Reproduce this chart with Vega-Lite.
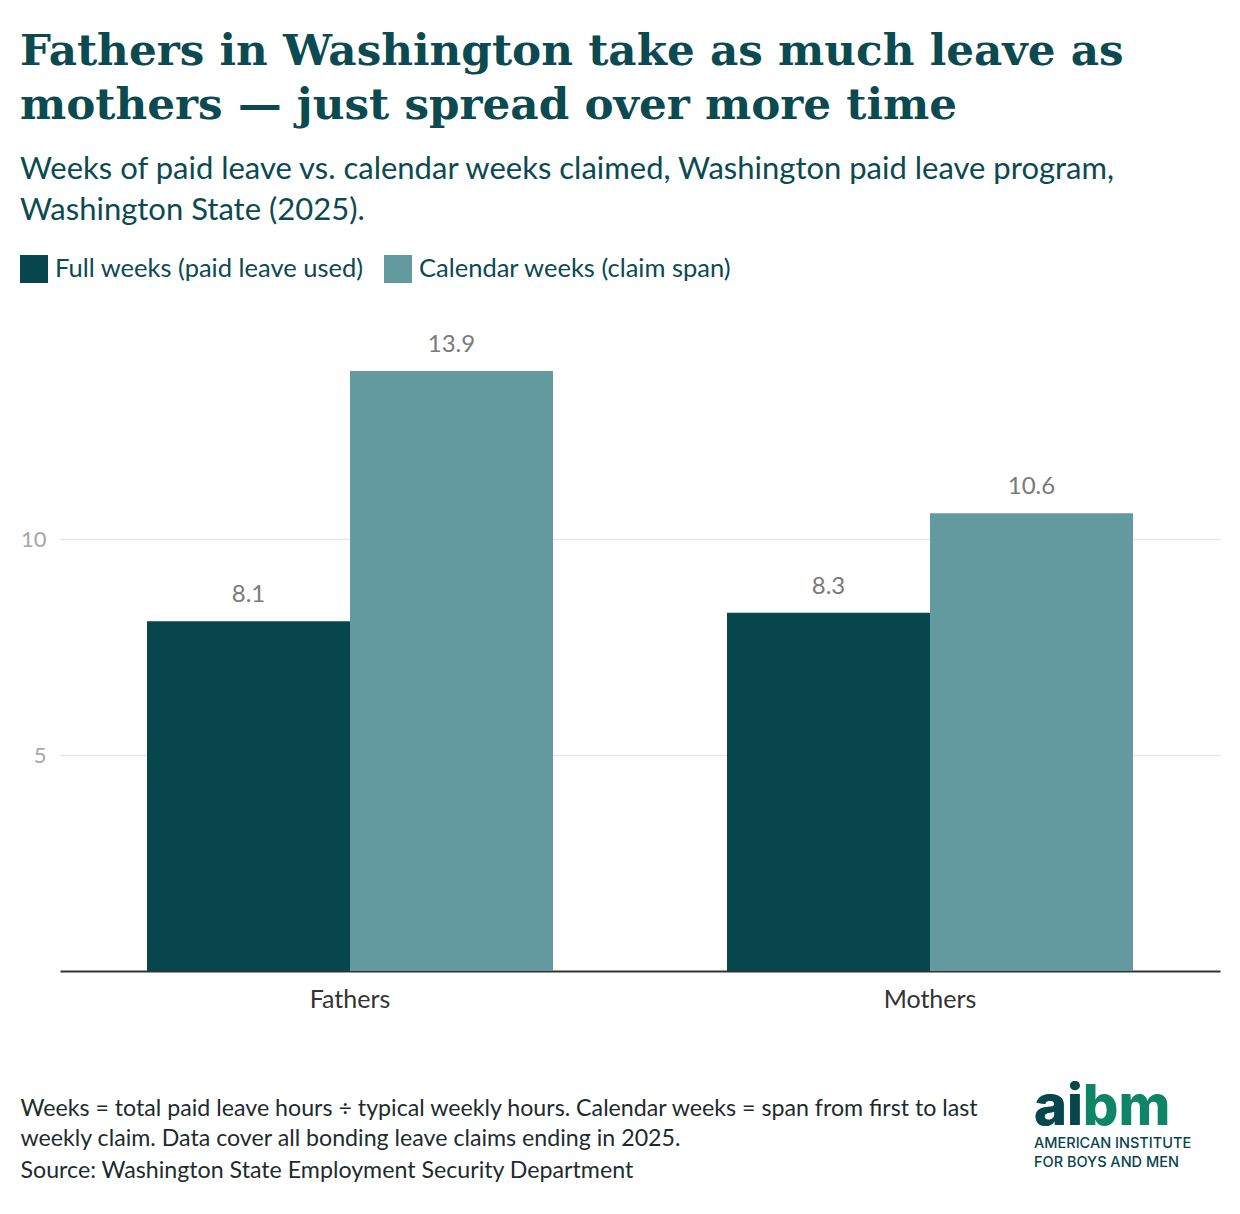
{
  "$schema": "https://vega.github.io/schema/vega-lite/v6.json",
  "background": "white",
  "padding": {"left": 20, "top": 30, "right": 20, "bottom": 20},
  "title": {
    "text": ["Fathers in Washington take as much leave as", "mothers — just spread over more time"],
    "subtitle": ["Weeks of paid leave vs. calendar weeks claimed, Washington paid leave program,", "Washington State (2025)."],
    "anchor": "start",
    "frame": "bounds",
    "font": "DejaVu Serif",
    "fontSize": 43.7,
    "fontWeight": "bold",
    "color": "#0b4a51",
    "lineHeight": 54,
    "subtitleFont": "Lato",
    "subtitleFontSize": 31,
    "subtitleColor": "#0b4a51",
    "subtitleLineHeight": 41,
    "subtitlePadding": 27,
    "offset": 29
  },
  "columns": 1,
  "bounds": "flush",
  "spacing": 165,
  "concat": [
    {
      "width": 1160,
      "height": 626,
      "title": {
        "text": ["Weeks = total paid leave hours ÷ typical weekly hours. Calendar weeks = span from first to last", "weekly claim. Data cover all bonding leave claims ending in 2025."],
        "subtitle": "Source: Washington State Employment Security Department",
        "orient": "bottom",
        "anchor": "start",
        "frame": "bounds",
        "font": "Lato",
        "fontSize": 23.2,
        "fontWeight": "normal",
        "color": "#1d2b2e",
        "lineHeight": 29.5,
        "subtitleFont": "Lato",
        "subtitleFontSize": 23.2,
        "subtitleColor": "#1d2b2e",
        "subtitlePadding": 9,
        "offset": 86
      },
      "data": {
        "values": [
          {"parent": "Fathers", "measure": "Full weeks (paid leave used)", "weeks": 8.1},
          {"parent": "Fathers", "measure": "Calendar weeks (claim span)", "weeks": 13.9},
          {"parent": "Mothers", "measure": "Full weeks (paid leave used)", "weeks": 8.3},
          {"parent": "Mothers", "measure": "Calendar weeks (claim span)", "weeks": 10.6}
        ]
      },
      "encoding": {
        "x": {
          "field": "parent", "type": "nominal", "title": null,
          "scale": {"paddingInner": 0.3, "paddingOuter": 0.15},
          "axis": {
            "labelAngle": 0, "labelFontSize": 25, "labelColor": "#333333",
            "labelPadding": 16, "ticks": false,
            "domainColor": "#333333", "domainWidth": 2
          }
        },
        "xOffset": {
          "field": "measure", "type": "nominal",
          "scale": {"domain": ["Full weeks (paid leave used)", "Calendar weeks (claim span)"]}
        },
        "y": {
          "field": "weeks", "type": "quantitative", "title": null,
          "scale": {"domain": [0, 14.5], "nice": false},
          "axis": {
            "values": [5, 10], "domain": false, "ticks": false,
            "labelFontSize": 22, "labelColor": "#a6a6a6", "labelPadding": 14,
            "gridColor": "#e6e6e6", "gridWidth": 1.5
          }
        }
      },
      "layer": [
        {
          "mark": {"type": "bar"},
          "encoding": {
            "color": {
              "field": "measure", "type": "nominal",
              "scale": {
                "domain": ["Full weeks (paid leave used)", "Calendar weeks (claim span)"],
                "range": ["#07464d", "#639a9f"]
              },
              "legend": {
                "orient": "none", "legendX": -40, "legendY": -90,
                "direction": "horizontal", "title": null,
                "symbolType": "square", "symbolSize": 784, "symbolStrokeWidth": 0,
                "labelFontSize": 25.5, "labelColor": "#0b4a51", "labelOffset": 7,
                "labelLimit": 0, "columnPadding": 20
              }
            }
          }
        },
        {
          "mark": {"type": "text", "baseline": "alphabetic", "dy": -19, "fontSize": 24, "color": "#7a7a7a"},
          "encoding": {
            "text": {"field": "weeks", "type": "quantitative", "format": ".1f"}
          }
        }
      ]
    },
    {
      "width": 974,
      "height": 2,
      "data": {"values": [{}]},
      "encoding": {"x": {"value": "width"}},
      "layer": [
        {"mark": {"type": "text", "text": "aibm", "font": "Inter", "fontWeight": 800, "fontSize": 56, "align": "left", "baseline": "bottom", "color": "#0e8567"}},
        {"mark": {"type": "text", "text": "ai", "font": "Inter", "fontWeight": 800, "fontSize": 56, "align": "left", "baseline": "bottom", "color": "#07464d"}},
        {"mark": {"type": "text", "text": "AMERICAN INSTITUTE\nFOR BOYS AND MEN", "lineBreak": "\n", "lineHeight": 19, "font": "Inter", "fontWeight": 500, "fontSize": 14.5, "align": "left", "baseline": "top", "color": "#07464d"}}
      ]
    }
  ],
  "config": {
    "view": {"stroke": null},
    "font": "Lato",
    "axis": {"labelFont": "Lato"},
    "legend": {"labelFont": "Lato"}
  }
}
